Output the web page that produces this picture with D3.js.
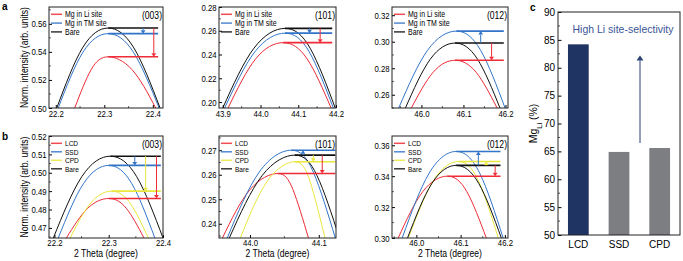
<!DOCTYPE html>
<html lang="en">
<head>
<meta charset="UTF-8">
<title>Mg site selectivity</title>
<script src="https://d3js.org/d3.v7.min.js"></script>
<style>
    body {margin: 0; background: #fff;}
    svg {display: block; font-family: "Liberation Sans", Arial, sans-serif;}
</style>
</head>
<body>
<script>
    const width = 683;
    const height = 261;

    const RED = "#ee2b36", BLUE = "#3275c8", BLACK = "#111111", YELLOW = "#e9e73e";
    const NARROW = 0.82;   // panels a and b use a condensed face

    // ---- panel a : peak tops, [2 theta, norm. intensity]
    const aNames = ["Mg in Li site", "Mg in TM site", "Bare"];

    const a003Li   = [[22.239, 0.50], [22.273, 0.5274], [22.308, 0.5365], [22.357, 0.5274], [22.406, 0.50]];
    const a003TM   = [[22.205, 0.50], [22.256, 0.5398], [22.308, 0.553], [22.360, 0.5398], [22.413, 0.50]];
    const a003Bare = [[22.202, 0.50], [22.255, 0.5428], [22.308, 0.557], [22.361, 0.5428], [22.415, 0.50]];
    const a003ArrowX = [22.402, 22.380];

    const a101Li   = [[43.914, 0.195], [43.987, 0.2363], [44.060, 0.250], [44.1235, 0.2363], [44.187, 0.195]];
    const a101TM   = [[43.905, 0.195], [43.985, 0.2423], [44.065, 0.258], [44.129, 0.2423], [44.193, 0.195]];
    const a101Bare = [[43.900, 0.195], [43.9825, 0.2453], [44.065, 0.262], [44.1315, 0.2453], [44.198, 0.195]];
    const a101ArrowX = [44.158, 44.130];

    const a012Li   = [[45.976, 0.25], [46.028, 0.277], [46.080, 0.286], [46.130, 0.277], [46.180, 0.25]];
    const a012TM   = [[45.946, 0.25], [46.0145, 0.2935], [46.083, 0.308], [46.141, 0.2935], [46.199, 0.25]];
    const a012Bare = [[45.962, 0.25], [46.021, 0.2868], [46.080, 0.299], [46.1335, 0.2868], [46.187, 0.25]];
    const a012ArrowX = [46.167, 46.141];

    // ---- panel b
    const bNames = ["LCD", "SSD", "CPD", "Bare"];

    const b003LCD  = [[22.222, 0.4645], [22.261, 0.4806], [22.300, 0.486], [22.3325, 0.4806], [22.365, 0.4645]];
    const b003SSD  = [[22.207, 0.4645], [22.2535, 0.4941], [22.300, 0.504], [22.3425, 0.4941], [22.385, 0.4645]];
    const b003CPD  = [[22.229, 0.4645], [22.267, 0.4836], [22.305, 0.490], [22.339, 0.4836], [22.373, 0.4645]];
    const b003Bare = [[22.198, 0.4645], [22.2505, 0.4979], [22.303, 0.509], [22.3515, 0.4979], [22.400, 0.4645]];
    const b003ArrowX = [22.388, 22.348, 22.368];

    const b101LCD  = [[43.960, 0.2342], [44.000, 0.2539], [44.040, 0.2605], [44.0625, 0.2539], [44.085, 0.2342]];
    const b101SSD  = [[43.967, 0.2342], [44.0135, 0.2611], [44.060, 0.270], [44.092, 0.2611], [44.124, 0.2342]];
    const b101CPD  = [[43.986, 0.2342], [44.0255, 0.2575], [44.065, 0.2653], [44.087, 0.2575], [44.109, 0.2342]];
    const b101Bare = [[43.970, 0.2342], [44.0175, 0.2596], [44.065, 0.268], [44.0975, 0.2596], [44.130, 0.2342]];
    const b101ArrowX = [44.105, 44.077, 44.092];

    const b012LCD  = [[45.959, 0.30], [46.0145, 0.330], [46.070, 0.340], [46.114, 0.330], [46.158, 0.30]];
    const b012SSD  = [[45.968, 0.30], [46.029, 0.342], [46.090, 0.356], [46.143, 0.342], [46.196, 0.30]];
    const b012CPD  = [[45.982, 0.30], [46.0385, 0.3371], [46.095, 0.3495], [46.140, 0.3371], [46.185, 0.30]];
    const b012Bare = [[45.980, 0.30], [46.035, 0.3353], [46.090, 0.347], [46.141, 0.3353], [46.192, 0.30]];
    const b012ArrowX = [46.178, 46.140, 46.158];

    // tick labels
    const x003Ticks = [22.2, 22.3, 22.4];
    const x101aTicks = [43.9, 44.0, 44.1, 44.2];
    const x101bTicks = [44.0, 44.1];
    const x012Ticks = [46.0, 46.1, 46.2];
    const ya003Ticks = [0.50, 0.52, 0.54, 0.56];
    const ya101Ticks = [0.20, 0.22, 0.24, 0.26, 0.28];
    const ya012Ticks = [0.26, 0.28, 0.30, 0.32];
    const yb003Ticks = [0.47, 0.48, 0.49, 0.50, 0.51, 0.52];
    const yb101Ticks = [0.24, 0.25, 0.26, 0.27];
    const yb012Ticks = [0.30, 0.32, 0.34, 0.36];

    // ---- panel c
    const cCats = ["LCD", "SSD", "CPD"];
    const cMgLi = [84.2, 64.9, 65.6];
    const cTicks = [50, 55, 60, 65, 70, 75, 80, 85, 90];

    const svg = d3.select("body").append("svg")
            .attr("width", width).attr("height", height);

    const cols = [[49, 163], [219, 336], [392, 508]];
    const rowA = [7, 108], rowB = [136, 238];
    const aColors = [RED, BLUE, BLACK];
    const bColors = [RED, BLUE, YELLOW, BLACK];

    const panels = [
        {c: 0, r: rowA, xd: [22.186, 22.421], yd: [0.50, 0.572], xt: x003Ticks, yt: ya003Ticks, hkl: "(003)",
            names: aNames, colors: aColors, series: [a003Li, a003TM, a003Bare], arrowX: a003ArrowX, end: 22.411},
        {c: 1, r: rowA, xd: [43.89, 44.20], yd: [0.195, 0.28], xt: x101aTicks, yt: ya101Ticks, hkl: "(101)",
            names: aNames, colors: aColors, series: [a101Li, a101TM, a101Bare], arrowX: a101ArrowX, end: 44.19},
        {c: 2, r: rowA, xd: [45.93, 46.206], yd: [0.25, 0.3262], xt: x012Ticks, yt: ya012Ticks, hkl: "(012)",
            names: aNames, colors: aColors, series: [a012Li, a012TM, a012Bare], arrowX: a012ArrowX, end: 46.196},
        {c: 0, r: rowB, xd: [22.19, 22.40], yd: [0.4645, 0.52], xt: x003Ticks, yt: yb003Ticks, hkl: "(003)",
            names: bNames, colors: bColors, series: [b003LCD, b003SSD, b003CPD, b003Bare], arrowX: b003ArrowX, end: 22.396},
        {c: 1, r: rowB, xd: [43.955, 44.125], yd: [0.2342, 0.2758], xt: x101bTicks, yt: yb101Ticks, hkl: "(101)",
            names: bNames, colors: bColors, series: [b101LCD, b101SSD, b101CPD, b101Bare], arrowX: b101ArrowX, end: 44.124},
        {c: 2, r: rowB, xd: [45.945, 46.207], yd: [0.30, 0.366], xt: x012Ticks, yt: yb012Ticks, hkl: "(012)",
            names: bNames, colors: bColors, series: [b012LCD, b012SSD, b012CPD, b012Bare], arrowX: b012ArrowX, end: 46.19}
    ];

    function addText(g, x, y, txt, size, anchor, sx, rot) {
        return g.append("text")
                .attr("transform", `translate(${x},${y})` + (rot ? ` rotate(${rot})` : "") + ` scale(${sx},1)`)
                .attr("text-anchor", anchor)
                .style("font-size", size + "px")
                .text(txt);
    }

    function drawArrow(g, px, yFrom, yTo, color, hw, hl) {
        const dir = yTo > yFrom ? 1 : -1;
        g.append("line")
                .attr("x1", px).attr("x2", px)
                .attr("y1", yFrom).attr("y2", yTo - dir * hl)
                .attr("stroke", color).attr("stroke-width", 1);
        g.append("path")
                .attr("d", `M${px - hw},${yTo - dir * hl}L${px + hw},${yTo - dir * hl}L${px},${yTo}Z`)
                .attr("fill", color);
    }

    function minorTicks(g, values, scale, vertical, pos, len) {
        g.selectAll(null).data(values).join("line")
                .attr("x1", d => vertical ? pos : scale(d))
                .attr("x2", d => vertical ? pos + len : scale(d))
                .attr("y1", d => vertical ? scale(d) : pos)
                .attr("y2", d => vertical ? scale(d) : pos - len)
                .attr("stroke", "#222").attr("stroke-width", 0.8);
    }

    function halfSteps(ticks, domain) {
        const step = ticks[1] - ticks[0];
        const out = [];
        for (let v = ticks[0] - step / 2; v <= domain[1] + 1e-9; v += step) {
            if (v >= domain[0] - 1e-9) out.push(v);
        }
        return out;
    }

    function drawPanel(p, i) {
        const [x0, x1] = cols[p.c];
        const [y0, y1] = p.r;
        const x = d3.scaleLinear().domain(p.xd).range([x0, x1]);
        const y = d3.scaleLinear().domain(p.yd).range([y1, y0]);
        const g = svg.append("g").attr("class", "panel");

        g.append("clipPath").attr("id", "clip" + i)
                .append("rect").attr("x", x0).attr("y", y0).attr("width", x1 - x0).attr("height", y1 - y0);

        const plot = g.append("g").attr("clip-path", `url(#clip${i})`);
        const line = d3.line().x(d => x(d[0])).y(d => y(d[1])).curve(d3.curveNatural);

        plot.selectAll("path.curve").data(p.series).join("path")
                .attr("class", "curve")
                .attr("d", line)
                .attr("fill", "none")
                .attr("stroke", (d, k) => p.colors[k])
                .attr("stroke-width", 1);

        const peaks = p.series.map(s => s.reduce((a, b) => b[1] > a[1] ? b : a));
        const bare = peaks[peaks.length - 1];

        plot.selectAll("line.level").data(peaks).join("line")
                .attr("class", "level")
                .attr("x1", d => x(d[0])).attr("x2", x(p.end))
                .attr("y1", d => y(d[1])).attr("y2", d => y(d[1]))
                .attr("stroke", (d, k) => p.colors[k])
                .attr("stroke-width", 1.6);

        p.arrowX.forEach((ax, k) => drawArrow(plot, x(ax), y(bare[1]), y(peaks[k][1]), p.colors[k], 2.4, 3.5));

        // axes, ticks pointing inwards
        const fmtY = d3.format(".2f");
        const xAxis = g.append("g").attr("transform", `translate(0,${y1})`)
                .call(d3.axisBottom(x).tickValues(p.xt).tickFormat(d3.format(".1f"))
                        .tickSizeInner(-3).tickSizeOuter(0).tickPadding(p.r === rowA ? 2.5 : 1.5));
        const yAxis = g.append("g").attr("transform", `translate(${x0},0)`)
                .call(d3.axisLeft(y).tickValues(p.yt).tickFormat(fmtY)
                        .tickSizeInner(-3).tickSizeOuter(0).tickPadding(3));
        [xAxis, yAxis].forEach(a => {
            a.attr("font-family", null).attr("font-size", null);
            a.select(".domain").remove();
            a.selectAll("text").attr("transform", `scale(${NARROW},1)`).style("font-size", "9.5px");
        });
        minorTicks(g, halfSteps(p.xt, p.xd), x, false, y1, 1.8);
        minorTicks(g, halfSteps(p.yt, p.yd), y, true, x0, 1.8);

        g.append("rect")
                .attr("x", x0).attr("y", y0).attr("width", x1 - x0).attr("height", y1 - y0)
                .attr("fill", "none").attr("stroke", "#222").attr("stroke-width", 1);

        // legend
        const step = p.names.length === 3 ? 8.8 : 8.5;
        const fs = p.names.length === 3 ? 8.5 : 8;
        p.names.forEach((n, k) => {
            const ly = y0 + 7.3 + k * step;
            g.append("line").attr("x1", x0 + 2).attr("x2", x0 + 13).attr("y1", ly).attr("y2", ly)
                    .attr("stroke", p.colors[k]).attr("stroke-width", 1.5).attr("stroke-opacity", 0.85);
            addText(g, x0 + 16, ly + 2.9, n, fs, "start", NARROW, 0);
        });

        addText(g, x1 - 1, y0 + 11.5, p.hkl, 10.5, "end", NARROW, 0);

        if (p.c === 0) {
            addText(g, 28, (y0 + y1) / 2, "Norm. intensity (arb. units)", 10.5, "middle", NARROW, -90);
        }
        if (p.r === rowB) {
            addText(g, (x0 + x1) / 2, 257, "2 Theta (degree)", 10.5, "middle", NARROW, 0);
        }
    }

    panels.forEach(drawPanel);

    // panel letters
    addText(svg, 2, 10, "a", 10, "start", 1, 0).style("font-weight", "bold");
    addText(svg, 2, 140, "b", 10, "start", 1, 0).style("font-weight", "bold");
    addText(svg, 530, 11, "c", 10, "start", 1, 0).style("font-weight", "bold");

    // ---- panel c : bar chart
    const cx0 = 558, cx1 = 680, cy0 = 12, cy1 = 235;
    const xc = d3.scaleBand().domain(cCats).range([cx0, cx1]).paddingInner(0.49).paddingOuter(0.245);
    const yc = d3.scaleLinear().domain([50, 90]).range([cy1, cy0]);
    const gc = svg.append("g").attr("class", "bars");

    gc.selectAll("rect.bar").data(cMgLi).join("rect")
            .attr("class", "bar")
            .attr("x", (d, k) => xc(cCats[k]))
            .attr("width", xc.bandwidth())
            .attr("y", d => yc(d))
            .attr("height", d => yc(50) - yc(d))
            .attr("fill", (d, k) => k === 0 ? "#1f3463" : "#7c7e81");

    const ycAxis = gc.append("g").attr("transform", `translate(${cx0},0)`)
            .call(d3.axisLeft(yc).tickValues(cTicks).tickSizeInner(-3.5).tickSizeOuter(0).tickPadding(3));
    const xcAxis = gc.append("g").attr("transform", `translate(0,${cy1})`)
            .call(d3.axisBottom(xc).tickSize(0).tickPadding(6));
    [ycAxis, xcAxis].forEach(a => {
        a.attr("font-family", null).attr("font-size", null);
        a.select(".domain").remove();
        a.selectAll("text").style("font-size", "10px");
    });
    minorTicks(gc, d3.range(52.5, 90, 5), yc, true, cx0, 2);

    gc.append("rect")
            .attr("x", cx0).attr("y", cy0).attr("width", cx1 - cx0).attr("height", cy1 - cy0)
            .attr("fill", "none").attr("stroke", "#222").attr("stroke-width", 1);

    const mgLabel = gc.append("text")
            .attr("transform", `translate(537,${(cy0 + cy1) / 2}) rotate(-90)`)
            .attr("text-anchor", "middle")
            .style("font-size", "10.5px");
    mgLabel.append("tspan").text("Mg");
    mgLabel.append("tspan").attr("baseline-shift", "sub").style("font-size", "7.5px").text("Li");
    mgLabel.append("tspan").text(" (%)");

    gc.append("text")
            .attr("x", 623).attr("y", 33)
            .attr("text-anchor", "middle")
            .attr("fill", "#3a5597")
            .style("font-size", "10.5px")
            .text("High Li site-selectivity");

    drawArrow(gc, 640, yc(66.5), yc(82.2), "#2b3f73", 3.5, 5);
</script>
</body>
</html>
